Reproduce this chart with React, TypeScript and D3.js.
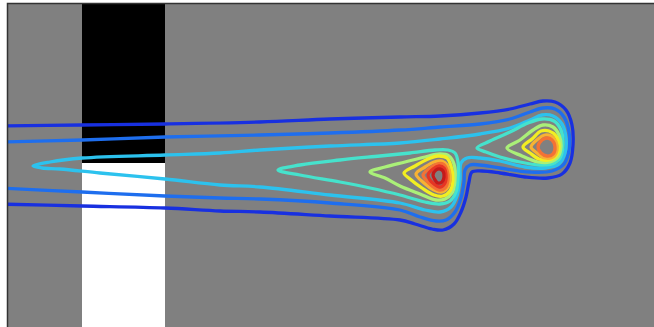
import { useEffect, useRef } from "react";
import * as d3 from "d3";

type Pt = [number, number];

// field extent, grid units
const fieldWidth = 647;
const fieldHeight = 324;

// barrier: dark upper part, light lower part
const barrierX: Pt = [75, 158];
const barrierSplit = 160;

// contour level colours (jet), outer -> inner
const levelColors = [
  "#1830e0",
  "#1e6eee",
  "#2cc2ee",
  "#46e2cc",
  "#aaf078",
  "#f2ee22",
  "#f8b232",
  "#f47234",
  "#e63424",
  "#c41a1a",
];

// open contours, leaving the field on the left
const level0: Pt[] = [
  [-10, 123], [75, 122], [158, 121], [253, 119], [323, 116], [393, 114], [433, 113],
  [473, 110], [503, 106], [523, 101], [536, 98], [548, 99], [559, 107], [565, 122],
  [566, 142], [563, 160], [555, 171], [541, 175], [518, 174], [493, 170], [475, 168],
  [465, 169], [462, 179], [459, 194], [454, 209], [447, 221], [436, 227], [425, 226],
  [408, 221], [393, 217], [323, 213], [253, 209], [213, 208], [158, 205], [75, 203],
  [-10, 201],
];

const level1: Pt[] = [
  [-10, 139], [75, 137], [158, 134], [253, 132], [323, 130], [393, 127], [433, 124],
  [473, 121], [503, 116], [523, 109], [536, 105], [548, 106], [557, 114], [562, 129],
  [562, 147], [557, 161], [545, 168], [523, 169], [493, 165], [473, 162], [463, 162],
  [458, 167], [457, 179], [454, 195], [448, 209], [439, 217], [429, 218], [413, 214],
  [393, 207], [323, 200], [253, 196], [213, 195], [158, 193], [75, 189], [-10, 185],
];

// closed contours
const level2: Pt[] = [
  [26, 163], [43, 159], [75, 155], [158, 152], [213, 150], [253, 147], [323, 143],
  [393, 140], [433, 136], [473, 131], [503, 125], [523, 117], [535, 112], [546, 113],
  [555, 121], [559, 135], [558, 150], [552, 161], [538, 165], [518, 164], [493, 158],
  [473, 155], [460, 155], [454, 160], [453, 177], [450, 193], [444, 204], [433, 209],
  [418, 207], [393, 200], [323, 192], [253, 184], [213, 182], [158, 176], [93, 170],
  [53, 166], [35, 165],
];

const level3a: Pt[] = [
  [271, 167], [293, 162], [333, 157], [373, 153], [403, 150], [428, 147], [441, 147],
  [448, 150], [451, 159], [451, 175], [449, 189], [443, 198], [433, 201], [418, 199],
  [393, 192], [363, 185], [333, 179], [293, 172],
];
const level3b: Pt[] = [
  [470, 145], [483, 138], [503, 129], [521, 120], [535, 116], [547, 118], [554, 127],
  [556, 142], [553, 155], [545, 161], [533, 162], [513, 159], [493, 154], [479, 149],
];

const level4a: Pt[] = [
  [363, 169], [378, 164], [398, 159], [418, 154], [433, 151], [442, 153], [447, 161],
  [448, 177], [445, 190], [438, 196], [429, 197], [413, 191], [393, 183], [378, 175],
];
const level4b: Pt[] = [
  [500, 145], [513, 137], [526, 127], [536, 122], [546, 124], [552, 132], [554, 144],
  [551, 154], [543, 159], [531, 159], [515, 153],
];

const level5a: Pt[] = [
  [397, 170], [408, 163], [421, 156], [431, 153], [440, 155], [444, 163], [446, 177],
  [443, 188], [436, 193], [427, 192], [415, 185], [403, 176],
];
const level5b: Pt[] = [
  [516, 144], [525, 136], [534, 128], [542, 128], [549, 133], [552, 144], [549, 153],
  [542, 157], [532, 156], [523, 150],
];

const level6a: Pt[] = [
  [409, 171], [418, 164], [427, 159], [435, 158], [440, 162], [443, 173], [441, 184],
  [435, 189], [427, 187], [417, 180],
];
const level6b: Pt[] = [
  [524, 144], [531, 136], [538, 132], [544, 133], [549, 139], [550, 147], [546, 154],
  [538, 155], [530, 150],
];

const level7a: Pt[] = [
  [416, 172], [423, 165], [430, 161], [436, 161], [440, 167], [441, 177], [438, 185],
  [432, 187], [425, 183], [419, 177],
];
const level7b: Pt[] = [
  [531, 144], [535, 137], [540, 135], [545, 137], [548, 144], [546, 151], [540, 153],
  [534, 150],
];

const level8a: Pt[] = [
  [421, 172], [426, 166], [432, 163], [437, 165], [439, 172], [438, 180], [433, 184],
  [427, 181], [423, 177],
];

const level9a: Pt[] = [
  [426, 172], [429, 167], [433, 166], [436, 168], [437, 174], [435, 179], [431, 180],
  [428, 177],
];

const contours: { level: number; closed: boolean; points: Pt[] }[] = [
  { level: 0, closed: false, points: level0 },
  { level: 1, closed: false, points: level1 },
  { level: 2, closed: true, points: level2 },
  { level: 3, closed: true, points: level3a },
  { level: 3, closed: true, points: level3b },
  { level: 4, closed: true, points: level4a },
  { level: 4, closed: true, points: level4b },
  { level: 5, closed: true, points: level5a },
  { level: 5, closed: true, points: level5b },
  { level: 6, closed: true, points: level6a },
  { level: 6, closed: true, points: level6b },
  { level: 7, closed: true, points: level7a },
  { level: 7, closed: true, points: level7b },
  { level: 8, closed: true, points: level8a },
  { level: 9, closed: true, points: level9a },
];

const width = 654;
const height = 327;
const margin = { top: 3, left: 7 };

const App = () => {
  const svgRef = useRef<SVGSVGElement | null>(null);

  useEffect(() => {
    const svg = d3.select(svgRef.current);
    svg.selectAll("*").remove();

    const x = d3
      .scaleLinear()
      .domain([0, fieldWidth])
      .range([margin.left, margin.left + fieldWidth]);
    const y = d3
      .scaleLinear()
      .domain([0, fieldHeight])
      .range([margin.top, margin.top + fieldHeight]);

    svg
      .append("defs")
      .append("clipPath")
      .attr("id", "field-clip")
      .append("rect")
      .attr("x", x(0))
      .attr("y", y(0))
      .attr("width", x(fieldWidth) - x(0))
      .attr("height", y(fieldHeight) - y(0));

    svg
      .append("rect")
      .attr("x", x(0))
      .attr("y", y(0))
      .attr("width", x(fieldWidth) - x(0))
      .attr("height", y(fieldHeight) - y(0))
      .attr("fill", "#808080");

    const g = svg.append("g").attr("clip-path", "url(#field-clip)");

    g.append("rect")
      .attr("x", x(barrierX[0]))
      .attr("y", y(0))
      .attr("width", x(barrierX[1]) - x(barrierX[0]))
      .attr("height", y(barrierSplit) - y(0))
      .attr("fill", "#000");

    g.append("rect")
      .attr("x", x(barrierX[0]))
      .attr("y", y(barrierSplit))
      .attr("width", x(barrierX[1]) - x(barrierX[0]))
      .attr("height", y(fieldHeight) - y(barrierSplit))
      .attr("fill", "#fff");

    const openLine = d3
      .line<Pt>()
      .x((d) => x(d[0]))
      .y((d) => y(d[1]))
      .curve(d3.curveCatmullRom.alpha(0.5));
    const closedLine = d3
      .line<Pt>()
      .x((d) => x(d[0]))
      .y((d) => y(d[1]))
      .curve(d3.curveCatmullRomClosed.alpha(0.5));

    g.selectAll("path.contour")
      .data(contours)
      .join("path")
      .attr("class", "contour")
      .attr("d", (d) => (d.closed ? closedLine(d.points) : openLine(d.points)))
      .attr("fill", "none")
      .attr("stroke", (d) => levelColors[d.level])
      .attr("stroke-width", 3.3)
      .attr("stroke-linejoin", "round");

    // frame
    svg
      .append("path")
      .attr("d", `M${x(0) + 0.5},${height}V${y(0) + 0.5}H${width}`)
      .attr("fill", "none")
      .attr("stroke", "#333")
      .attr("stroke-width", 1.5);
  }, []);

  return (
    <div style={{ position: "fixed", left: 0, top: 0, width, height, background: "#fff" }}>
      <svg ref={svgRef} width={width} height={height} style={{ display: "block" }} />
    </div>
  );
};

export default App;
